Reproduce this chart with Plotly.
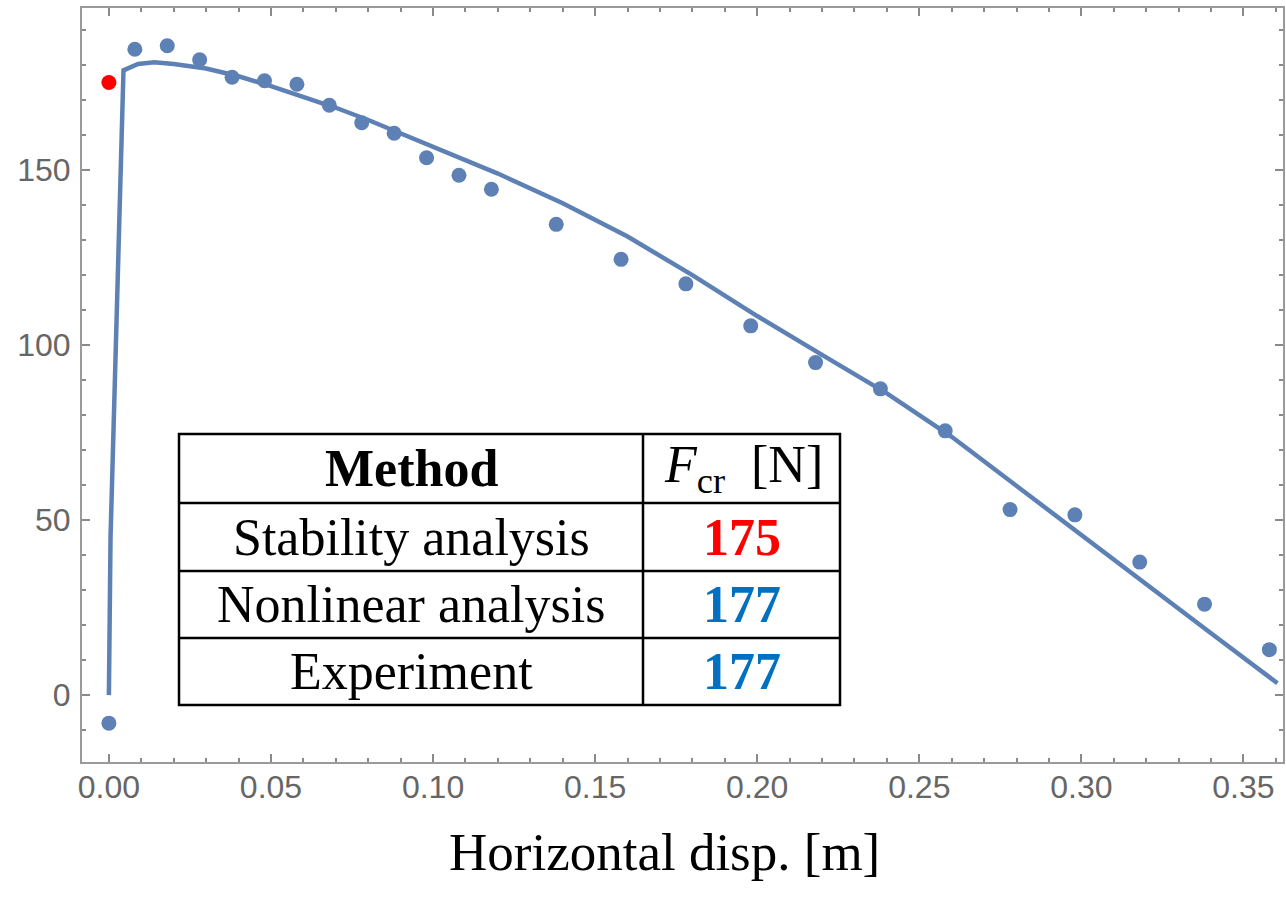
import plotly.graph_objects as go

# ---- data ----
curve_x = [0.0, 0.0005, 0.0045, 0.009, 0.014, 0.02, 0.03, 0.04, 0.05, 0.06, 0.07, 0.08, 0.09,
           0.10, 0.12, 0.14, 0.16, 0.18, 0.20, 0.22, 0.24, 0.26, 0.28, 0.30, 0.32, 0.34, 0.3605]
curve_y = [0.0, 45.0, 178.5, 180.3, 180.8, 180.3, 179.0, 176.8, 174.0, 171.0, 167.8, 164.3, 160.5,
           156.6, 149.0, 140.5, 131.0, 120.0, 108.3, 97.2, 86.2, 73.8, 59.7, 45.8, 31.7, 17.7, 3.4]

exp_x = [0.0, 0.008, 0.018, 0.028, 0.038, 0.048, 0.058, 0.068, 0.078, 0.088, 0.098, 0.108, 0.118,
         0.138, 0.158, 0.178, 0.198, 0.218, 0.238, 0.258, 0.278, 0.298, 0.318, 0.338, 0.358]
exp_y = [-8.0, 184.5, 185.5, 181.5, 176.5, 175.5, 174.5, 168.5, 163.5, 160.5, 153.5, 148.5, 144.5,
         134.5, 124.5, 117.5, 105.5, 95.0, 87.5, 75.5, 53.0, 51.5, 38.0, 26.0, 13.0]

stab_x = [0.0]
stab_y = [175.0]

x_tick_vals = [0.0, 0.05, 0.10, 0.15, 0.20, 0.25, 0.30, 0.35]
x_tick_text = ["0.00", "0.05", "0.10", "0.15", "0.20", "0.25", "0.30", "0.35"]
y_tick_vals = [0, 50, 100, 150]
y_tick_text = ["0", "50", "100", "150"]

table_methods = ["Stability analysis", "Nonlinear analysis", "Experiment"]
table_values = ["175", "177", "177"]
table_colors = ["#FF0000", "#0070C0", "#0070C0"]
x_title = "Horizontal disp. [m]"

# ---- layout geometry (pixels) ----
W, H = 1286, 906
PL, PR, PT, PB = 82, 1283, 8, 762

def px(xp):
    return (xp - PL) / (PR - PL)

def py(yp):
    return (PB - yp) / (PB - PT)

blue = "rgb(94,129,181)"
fig = go.Figure()
fig.add_trace(go.Scatter(x=curve_x, y=curve_y, mode="lines",
                         line=dict(color=blue, width=4.5), hoverinfo="skip"))
fig.add_trace(go.Scatter(x=exp_x, y=exp_y, mode="markers",
                         marker=dict(color=blue, size=15, line=dict(width=0))))
fig.add_trace(go.Scatter(x=stab_x, y=stab_y, mode="markers",
                         marker=dict(color="#FF0000", size=15, line=dict(width=0))))

axis_common = dict(showline=True, mirror="allticks", linecolor="#9a9a9a", linewidth=2,
                   ticks="inside", tickcolor="#8a8a8a", tickwidth=1.5, ticklen=8,
                   showgrid=False, zeroline=False, automargin=False,
                   tickfont=dict(family="Liberation Sans, Arial", size=32, color="#666666"))

fig.update_layout(
    width=W, height=H,
    margin=dict(l=PL, r=W - PR, t=PT, b=H - PB, autoexpand=False),
    paper_bgcolor="white", plot_bgcolor="white",
    showlegend=False,
    xaxis=dict(range=[-0.0083, 0.3622], tickvals=x_tick_vals, ticktext=x_tick_text,
               minor=dict(dtick=0.01, tick0=0, ticks="inside", ticklen=4, tickcolor="#8a8a8a", tickwidth=1.5),
               ticklabelstandoff=-4, **axis_common),
    yaxis=dict(range=[-19.1, 196.3], tickvals=y_tick_vals, ticktext=y_tick_text,
               minor=dict(dtick=10, tick0=0, ticks="inside", ticklen=4, tickcolor="#8a8a8a", tickwidth=1.5),
               ticklabelstandoff=3, **axis_common),
)

# ---- x-axis title ----
fig.add_annotation(text=x_title, xref="paper", yref="paper", x=px(664), y=py(852),
                   xanchor="center", yanchor="middle", showarrow=False,
                   font=dict(family="Liberation Serif, Times New Roman", size=53, color="black"))

# ---- table ----
TL, TR, TT, TB = 179, 840, 434, 705
COL = 643
ROWS = [434, 503, 571, 638, 705]
fig.add_shape(type="rect", xref="paper", yref="paper", x0=px(TL), x1=px(TR), y0=py(TB), y1=py(TT),
              line=dict(color="black", width=2.5), fillcolor="white", layer="above")
for r in ROWS[1:-1]:
    fig.add_shape(type="line", xref="paper", yref="paper", x0=px(TL), x1=px(TR), y0=py(r), y1=py(r),
                  line=dict(color="black", width=2.5), layer="above")
fig.add_shape(type="line", xref="paper", yref="paper", x0=px(COL), x1=px(COL), y0=py(TT), y1=py(TB),
              line=dict(color="black", width=2.5), layer="above")

serif = "Liberation Serif, Times New Roman"
c1 = (TL + COL) / 2
c2 = (COL + TR) / 2
fig.add_annotation(text="<b>Method</b>", xref="paper", yref="paper", x=px(c1), y=py((ROWS[0] + ROWS[1]) / 2),
                   showarrow=False, xanchor="center", yanchor="middle",
                   font=dict(family=serif, size=52, color="black"))
fig.add_annotation(text="<i>F</i><sub>cr</sub>  [N]", xref="paper", yref="paper", x=px(c2 + 2),
                   y=py((ROWS[0] + ROWS[1]) / 2), showarrow=False, xanchor="center", yanchor="middle",
                   font=dict(family=serif, size=52, color="black"))
for i, (m, v, c) in enumerate(zip(table_methods, table_values, table_colors)):
    yc = (ROWS[i + 1] + ROWS[i + 2]) / 2
    fig.add_annotation(text=m, xref="paper", yref="paper", x=px(c1), y=py(yc), showarrow=False,
                       xanchor="center", yanchor="middle", font=dict(family=serif, size=52, color="black"))
    fig.add_annotation(text="<b>" + v + "</b>", xref="paper", yref="paper", x=px(c2), y=py(yc),
                       showarrow=False, xanchor="center", yanchor="middle",
                       font=dict(family=serif, size=52, color=c))

fig.write_html("out.html", config={"displayModeBar": False},
               post_script="document.body.style.margin='0';document.body.style.overflow='hidden';")
